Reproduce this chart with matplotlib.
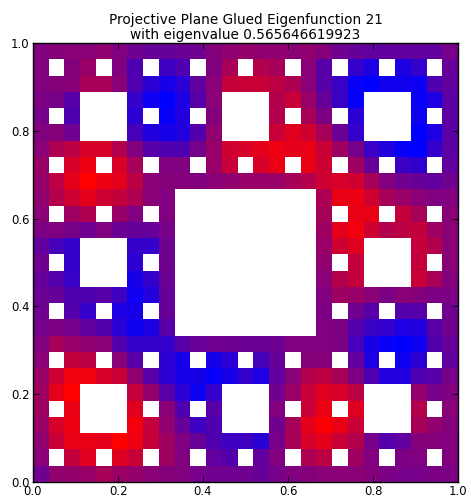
import numpy as np
import matplotlib
matplotlib.use("Agg")
import matplotlib.pyplot as plt
from matplotlib.colors import LinearSegmentedColormap

# red share of each cell in percent, top row first, X = hole in the carpet
X = -1
rows = [
    [50, 52, 55, 55, 58, 50, 42, 38, 38, 40, 42, 52, 58, 60, 58, 58, 55, 58, 52, 42, 38, 35, 35, 35, 35, 35, 45],
    [50, X, 52, 62, X, 50, 28, X, 22, 28, X, 50, 68, X, 72, 68, X, 55, 32, X, 18, 10, X, 10, 18, X, 38],
    [50, 52, 54, 68, 68, 55, 28, 15, 8, 15, 35, 55, 78, 80, 80, 75, 70, 55, 32, 20, 3, 0, 6, 6, 4, 28, 35],
    [48, 46, 32, X, X, X, 18, 5, 0, 10, 32, 55, X, X, X, 72, 80, 62, 38, 20, 2, X, X, X, 3, 10, 33],
    [45, X, 28, X, X, X, 15, X, 2, 12, X, 52, X, X, X, 72, X, 68, 48, X, 15, X, X, X, 5, X, 33],
    [50, 52, 42, X, X, X, 25, 12, 8, 12, 30, 58, X, X, X, 80, 88, 82, 68, 40, 18, X, X, X, 0, 10, 33],
    [55, 70, 75, 85, 85, 72, 50, 32, 28, 28, 45, 62, 82, 85, 90, 93, 90, 92, 80, 65, 45, 20, 12, 2, 0, 18, 33],
    [62, X, 85, 93, X, 86, 68, X, 50, 50, X, 62, 80, X, 85, 92, X, 92, 82, X, 65, 38, X, 20, 17, X, 35],
    [60, 75, 90, 100, 93, 90, 75, 55, 52, 52, 50, 55, 58, 62, 62, 62, 68, 72, 82, 85, 82, 68, 50, 42, 38, 35, 42],
    [58, 72, 82, 90, 82, 78, 70, 55, 50, X, X, X, X, X, X, X, X, X, 70, 92, 93, 82, 68, 62, 55, 50, 50],
    [55, X, 65, 70, X, 62, 50, X, 50, X, X, X, X, X, X, X, X, X, 68, X, 92, 92, X, 78, 68, X, 55],
    [48, 50, 46, 42, 50, 40, 38, 38, 45, X, X, X, X, X, X, X, X, X, 65, 90, 95, 82, 72, 75, 78, 65, 55],
    [35, 25, 18, X, X, X, 18, 18, 42, X, X, X, X, X, X, X, X, X, 62, 82, 88, X, X, X, 78, 72, 55],
    [42, X, 18, X, X, X, 16, X, 42, X, X, X, X, X, X, X, X, X, 58, X, 78, X, X, X, 78, X, 55],
    [38, 30, 20, X, X, X, 8, 18, 40, X, X, X, X, X, X, X, X, X, 55, 72, 78, X, X, X, 80, 68, 52],
    [40, 38, 28, 28, 32, 22, 5, 12, 38, X, X, X, X, X, X, X, X, X, 50, 65, 62, 55, 48, 55, 52, 48, 48],
    [42, X, 30, 18, X, 10, 8, X, 38, X, X, X, X, X, X, X, X, X, 48, X, 42, 32, X, 30, 32, X, 42],
    [45, 48, 45, 35, 30, 15, 5, 10, 32, X, X, X, X, X, X, X, X, X, 50, 48, 30, 20, 18, 10, 12, 32, 42],
    [50, 68, 62, 58, 55, 30, 18, 18, 18, 32, 38, 42, 42, 40, 40, 42, 50, 50, 50, 48, 25, 8, 3, 0, 5, 30, 38],
    [55, X, 78, 75, X, 55, 32, X, 15, 8, X, 8, 15, X, 25, 38, X, 52, 52, X, 35, 10, X, 5, 15, X, 35],
    [62, 82, 95, 95, 85, 80, 58, 32, 15, 8, 8, 3, 8, 18, 10, 35, 55, 72, 75, 68, 48, 28, 12, 12, 28, 32, 45],
    [65, 90, 100, X, X, X, 78, 60, 32, 15, 5, 18, X, X, X, 42, 62, 80, 88, 85, 75, X, X, X, 60, 45, 50],
    [65, X, 92, X, X, X, 88, X, 55, 28, X, 32, X, X, X, 50, X, 80, 92, X, 88, X, X, X, 72, X, 55],
    [62, 85, 93, X, X, X, 95, 78, 58, 38, 22, 28, X, X, X, 42, 68, 90, 98, 92, 80, X, X, X, 68, 58, 52],
    [58, 80, 92, 92, 90, 100, 93, 78, 65, 50, 38, 28, 22, 22, 15, 45, 68, 85, 90, 80, 72, 45, 30, 35, 52, 52, 50],
    [55, X, 78, 88, X, 88, 80, X, 65, 50, X, 35, 30, X, 35, 50, X, 70, 75, X, 65, 50, X, 48, 50, X, 50],
    [42, 58, 60, 62, 68, 62, 60, 55, 52, 50, 45, 42, 42, 42, 38, 45, 50, 52, 55, 55, 55, 52, 48, 45, 45, 48, 48],
]
title = "Projective Plane Glued Eigenfunction 21\nwith eigenvalue 0.565646619923"
ticks = [0.0, 0.2, 0.4, 0.6, 0.8, 1.0]

cells = np.ma.masked_less(np.array(rows, dtype=float)[::-1], 0)
edges = np.linspace(0, 1, len(rows) + 1)
# my readings came out a bit contrasty, so the ramp is flattened around the middle
ramp_pos = [0.0, 0.15, 0.35, 0.5, 0.65, 0.85, 1.0]
ramp_red = [0.0, 0.17, 0.38, 0.5, 0.62, 0.84, 1.0]
cmap = LinearSegmentedColormap.from_list(
    "bluered", [(p, (r, 0, 1 - r)) for p, r in zip(ramp_pos, ramp_red)]
)

fig = plt.figure(figsize=(4.71, 4.97), dpi=100)
ax = fig.add_axes([33 / 471, 15 / 497, 425 / 471, 439 / 497])
ax.pcolormesh(edges, edges, cells, cmap=cmap, vmin=0, vmax=100)
ax.set_xlim(0, 1)
ax.set_ylim(0, 1)
ax.set_xticks(ticks)
ax.set_yticks(ticks)
ax.tick_params(direction="in", top=True, right=True, length=4, width=0.6, labelsize=8.4, pad=2.5)
for spine in ax.spines.values():
    spine.set_linewidth(1.0)
ax.set_title(title, fontsize=9.8, pad=3, linespacing=1.1)

fig.savefig("out.png", dpi=100)
